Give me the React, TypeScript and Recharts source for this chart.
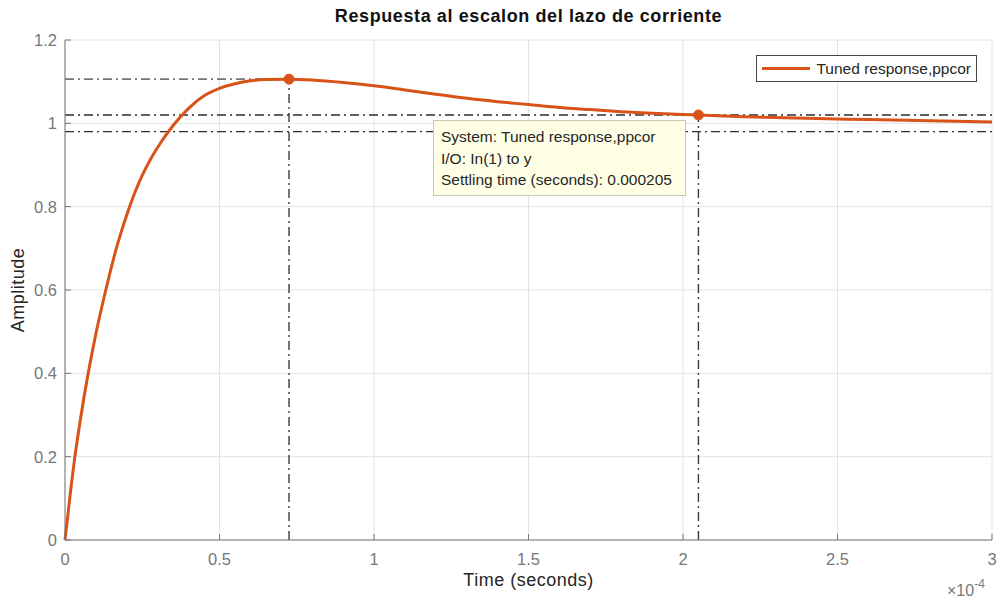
import React from 'react';
import {
  LineChart, Line, XAxis, YAxis, CartesianGrid, ReferenceLine, ReferenceDot,
} from 'recharts';

// time axis is in units of 1e-4 s (MATLAB shows the x10^-4 multiplier)
const timeE4 = [
  0, 0.02, 0.032, 0.05, 0.075, 0.1, 0.132, 0.17, 0.209, 0.251, 0.28, 0.31, 0.348, 0.4, 0.45, 0.5,
  0.55, 0.6, 0.65, 0.725, 0.8, 0.9, 1.0, 1.1, 1.2, 1.3, 1.4, 1.5, 1.6, 1.7, 1.8,
  1.9, 2.0, 2.05, 2.2, 2.4, 2.6, 2.8, 3.0,
];
const amplitude = [
  0, 0.13, 0.2, 0.29, 0.4, 0.495, 0.6, 0.71, 0.8, 0.877, 0.918, 0.954, 0.993, 1.036, 1.066, 1.084,
  1.095, 1.102, 1.105, 1.106, 1.104, 1.098, 1.09, 1.08, 1.07, 1.06, 1.052, 1.045, 1.038, 1.033, 1.028,
  1.024, 1.021, 1.02, 1.016, 1.012, 1.009, 1.006, 1.003,
];

const xTicks = [0, 0.5, 1, 1.5, 2, 2.5, 3];
const yTicks = [0, 0.2, 0.4, 0.6, 0.8, 1, 1.2];

const peakT = 0.725;
const peakY = 1.106;
const settleT = 2.05;
const settleY = 1.02;
const settleBand = [0.98, 1.02];

const seriesName = 'Tuned response,ppcor';
const tipLines = [
  'System: Tuned response,ppcor',
  'I/O: In(1) to y',
  'Settling time (seconds): 0.000205',
];

const data = timeE4.map((t, i) => ({ t, y: amplitude[i] }));

const ORANGE = '#D95319';
const AXIS = '#777777';
const DARK = '#262626';
const FONT = '"Liberation Sans", Arial, Helvetica, sans-serif';
const DASHDOT = '9 4 2 4';

const fmt = (v: number) => String(+v.toFixed(1));

export default function App() {
  return (
    <div style={{ position: 'absolute', left: 0, top: 0, width: 1000, height: 600, background: '#fff', fontFamily: FONT }}>
      <LineChart width={1000} height={600} data={data} margin={{ top: 40, right: 8, bottom: 0, left: 0 }}>
        <CartesianGrid stroke="#e3e3e3" horizontalValues={yTicks} verticalValues={xTicks} />
        <XAxis
          dataKey="t" type="number" domain={[0, 3]} ticks={xTicks} height={60}
          tickFormatter={fmt} tickSize={-6} tickMargin={19}
          stroke={AXIS} tick={{ fill: AXIS, fontSize: 16.5, fontFamily: FONT }}
        />
        <XAxis
          xAxisId="top" orientation="top" dataKey="t" type="number" domain={[0, 3]} ticks={xTicks}
          height={0} tick={false} tickSize={-6} stroke={AXIS}
        />
        <YAxis
          type="number" domain={[0, 1.2]} ticks={yTicks} width={65}
          tickFormatter={fmt} tickSize={-6} tickMargin={14}
          stroke={AXIS} tick={{ fill: AXIS, fontSize: 16.5, fontFamily: FONT }}
        />
        <YAxis
          yAxisId="right" orientation="right" type="number" domain={[0, 1.2]} ticks={yTicks}
          width={0} tick={false} tickSize={-6} stroke={AXIS}
        />
        <ReferenceLine
          segment={[{ x: 0, y: peakY }, { x: peakT, y: peakY }]}
          stroke="#767676" strokeWidth={1.6} strokeDasharray={DASHDOT}
        />
        <ReferenceLine
          segment={[{ x: peakT, y: 0 }, { x: peakT, y: peakY }]}
          stroke="#3a3a3a" strokeWidth={1.4} strokeDasharray={DASHDOT}
        />
        {settleBand.map((v) => (
          <ReferenceLine key={v} y={v} stroke="#2e2e2e" strokeWidth={1.4} strokeDasharray={DASHDOT} />
        ))}
        <ReferenceLine
          segment={[{ x: settleT, y: 0 }, { x: settleT, y: settleY }]}
          stroke="#3a3a3a" strokeWidth={1.4} strokeDasharray={DASHDOT}
        />
        <Line
          type="monotone" dataKey="y" name={seriesName} stroke={ORANGE} strokeWidth={3}
          dot={false} isAnimationActive={false}
        />
        <ReferenceDot x={peakT} y={peakY} r={5} fill={ORANGE} stroke={ORANGE} />
        <ReferenceDot x={settleT} y={settleY} r={5} fill={ORANGE} stroke={ORANGE} />
      </LineChart>

      <div style={{
        position: 'absolute', left: 756, top: 55, width: 221, height: 27, boxSizing: 'border-box',
        border: '1px solid #444', background: '#fff', padding: '0 5px',
        display: 'flex', alignItems: 'center', fontSize: 15.5, color: DARK, whiteSpace: 'nowrap',
      }}>
        <span style={{ display: 'inline-block', width: 49, height: 3, background: ORANGE, marginRight: 6 }} />
        {seriesName}
      </div>
      <div style={{
        position: 'absolute', left: 65, width: 927, top: 6, textAlign: 'center',
        fontWeight: 'bold', fontSize: 18, letterSpacing: 0.6, color: '#111',
      }}>
        Respuesta al escalon del lazo de corriente
      </div>
      <div style={{
        position: 'absolute', left: 65, width: 927, top: 570, textAlign: 'center',
        fontSize: 18, letterSpacing: 0.5, color: DARK,
      }}>
        Time (seconds)
      </div>
      <div style={{
        position: 'absolute', left: 18, top: 290, fontSize: 18, letterSpacing: 0.5, color: DARK,
        transform: 'translate(-50%, -50%) rotate(-90deg)', whiteSpace: 'nowrap',
      }}>
        Amplitude
      </div>
      <div style={{ position: 'absolute', left: 947, top: 582, fontSize: 16, color: AXIS, whiteSpace: 'nowrap' }}>
        ×10<sup style={{ fontSize: 12, verticalAlign: 'top', position: 'relative', top: -5 }}>-4</sup>
      </div>
      <div style={{
        position: 'absolute', left: 433, top: 120, width: 253, height: 76, boxSizing: 'border-box',
        background: '#ffffe6', border: '1px solid #c8c8b4', padding: '5px 7px',
        fontSize: 15.5, color: DARK, lineHeight: '21.5px', whiteSpace: 'nowrap',
      }}>
        {tipLines.map((l) => <div key={l}>{l}</div>)}
      </div>
    </div>
  );
}
